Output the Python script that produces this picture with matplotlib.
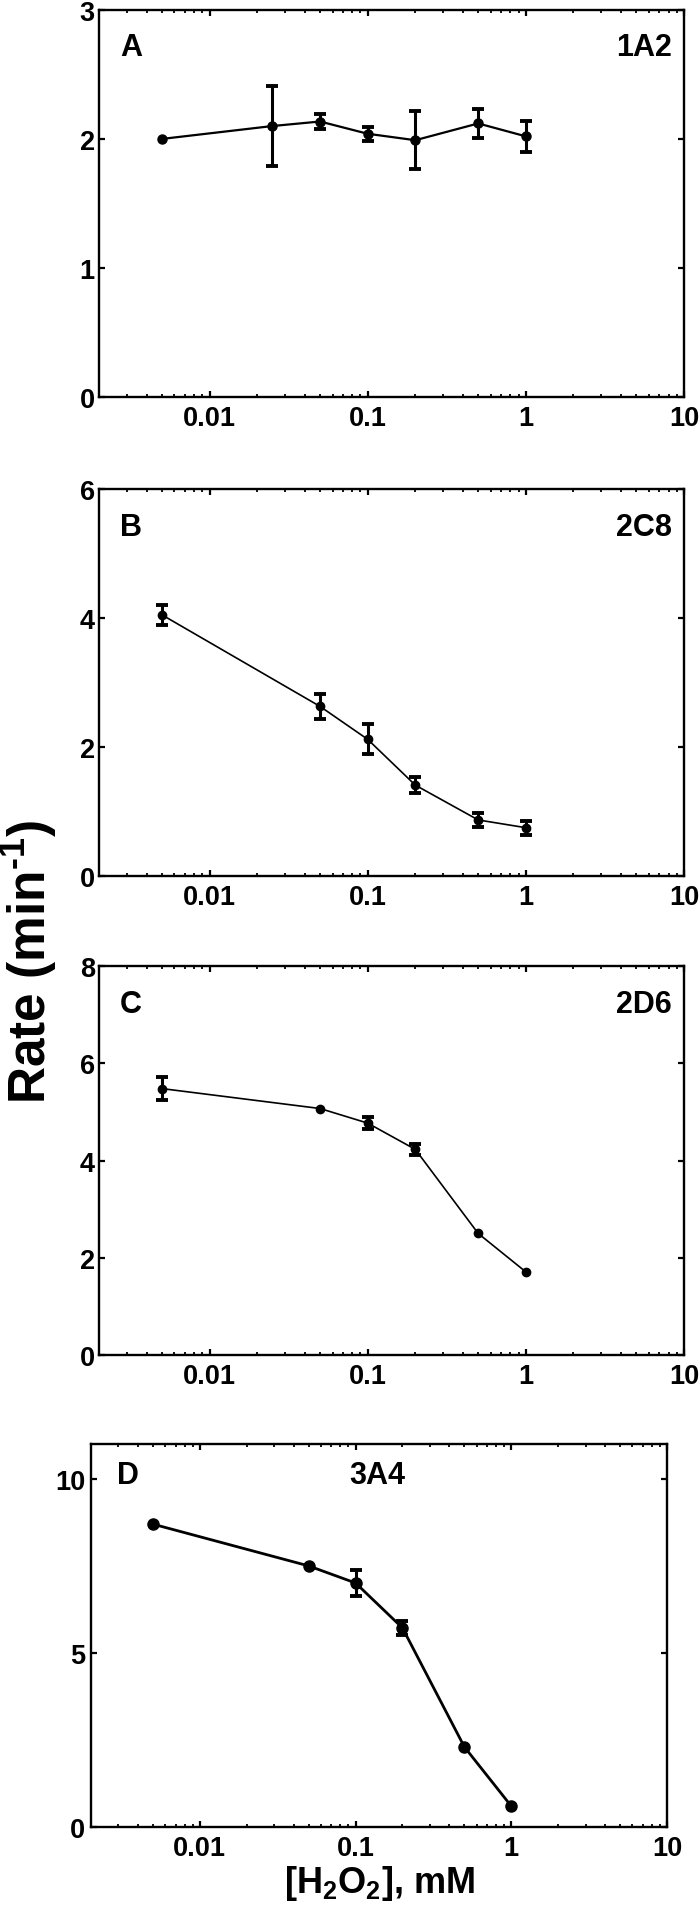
import numpy as np
import matplotlib
matplotlib.use('Agg')
import matplotlib.pyplot as plt

plt.rcParams['font.family'] = ['Liberation Sans', 'DejaVu Sans']
plt.rcParams['font.weight'] = 'bold'
plt.rcParams['mathtext.fontset'] = 'custom'
plt.rcParams['mathtext.rm'] = 'Liberation Sans:bold'
plt.rcParams['mathtext.it'] = 'Liberation Sans:bold'
plt.rcParams['mathtext.bf'] = 'Liberation Sans:bold'

# concentrations, mM
conc_a = [0.005, 0.025, 0.05, 0.1, 0.2, 0.5, 1.0]
conc_bcd = [0.005, 0.05, 0.1, 0.2, 0.5, 1.0]

# rates (min-1) and errors
rate_a = [2.00, 2.10, 2.135, 2.04, 1.99, 2.12, 2.02]
err_a = [0.0, 0.31, 0.06, 0.055, 0.225, 0.11, 0.12]
rate_b = [4.05, 2.63, 2.12, 1.41, 0.87, 0.75]
err_b = [0.15, 0.19, 0.23, 0.12, 0.11, 0.11]
rate_c = [5.48, 5.07, 4.77, 4.23, 2.50, 1.71]
err_c = [0.24, 0.0, 0.13, 0.12, 0.0, 0.0]
rate_d = [8.70, 7.50, 7.01, 5.72, 2.30, 0.60]
err_d = [0.0, 0.0, 0.38, 0.20, 0.0, 0.0]

panel_letters = ['A', 'B', 'C', 'D']
enzymes = ['1A2', '2C8', '2D6', '3A4']
y_max = [3, 6, 8, 11]
y_ticks = [[0, 1, 2, 3], [0, 2, 4, 6], [0, 2, 4, 6, 8], [0, 5, 10]]
x_ticks = [0.01, 0.1, 1, 10]
x_ticklabels = ['0.01', '0.1', '1', '10']

fig = plt.figure(figsize=(7, 19.15), dpi=100)

# axes positions in figure fraction [left, bottom, width, height]
positions = [
    [0.1414, 0.7922, 0.8357, 0.2021],
    [0.1414, 0.5420, 0.8357, 0.2021],
    [0.1414, 0.2919, 0.8357, 0.2031],
    [0.1300, 0.0454, 0.8229, 0.2000],
]
series = [(conc_a, rate_a, err_a), (conc_bcd, rate_b, err_b),
          (conc_bcd, rate_c, err_c), (conc_bcd, rate_d, err_d)]
line_w = [1.6, 1.2, 1.2, 2.0]
mark_s = [6.5, 6, 6, 8]

for i in range(4):
    ax = fig.add_axes(positions[i])
    x, y, e = [np.array(v) for v in series[i]]
    ax.plot(x, y, '-o', color='black', lw=line_w[i], ms=mark_s[i], zorder=3)
    has_err = e > 0
    ax.errorbar(x[has_err], y[has_err], yerr=e[has_err], fmt='none', ecolor='black',
                elinewidth=2.2, capsize=4.5, capthick=2.8, zorder=4)

    ax.set_xscale('log')
    ax.set_xlim(0.002, 10)
    ax.set_ylim(0, y_max[i])
    ax.set_xticks(x_ticks, x_ticklabels)
    ax.set_yticks(y_ticks[i])
    ax.xaxis.set_minor_locator(matplotlib.ticker.LogLocator(base=10, subs=np.arange(2, 10)))
    ax.xaxis.set_minor_formatter(matplotlib.ticker.NullFormatter())

    ax.tick_params(which='both', direction='in', top=True, right=True, labelsize=19.5)
    ax.tick_params(which='major', length=4.5, width=1.6)
    ax.tick_params(which='minor', length=2.5, width=1.3)
    ax.tick_params(axis='x', pad=6)
    ax.tick_params(axis='y', pad=3 if i < 3 else 4)
    for sp in ax.spines.values():
        sp.set_linewidth(1.7)

    if i < 3:
        ax.text(0.036, 0.903, panel_letters[i], transform=ax.transAxes,
                fontsize=22, fontweight='bold', ha='left', va='center')
        ax.text(0.979, 0.903, enzymes[i], transform=ax.transAxes,
                fontsize=22, fontweight='bold', ha='right', va='center')
    else:
        ax.text(0.045, 0.92, panel_letters[i], transform=ax.transAxes,
                fontsize=22, fontweight='bold', ha='left', va='center')
        ax.text(0.497, 0.92, enzymes[i], transform=ax.transAxes,
                fontsize=22, fontweight='bold', ha='center', va='center')
        ax.set_xlabel('[H$_2$O$_2$], mM', fontsize=26, fontweight='bold', labelpad=1)

fig.text(0.042, 1 - 962 / 1915, 'Rate (min$^{\\text{-1}}$)', rotation=90, fontsize=37,
         fontweight='bold', ha='center', va='center')

fig.savefig('out.png', dpi=100)
